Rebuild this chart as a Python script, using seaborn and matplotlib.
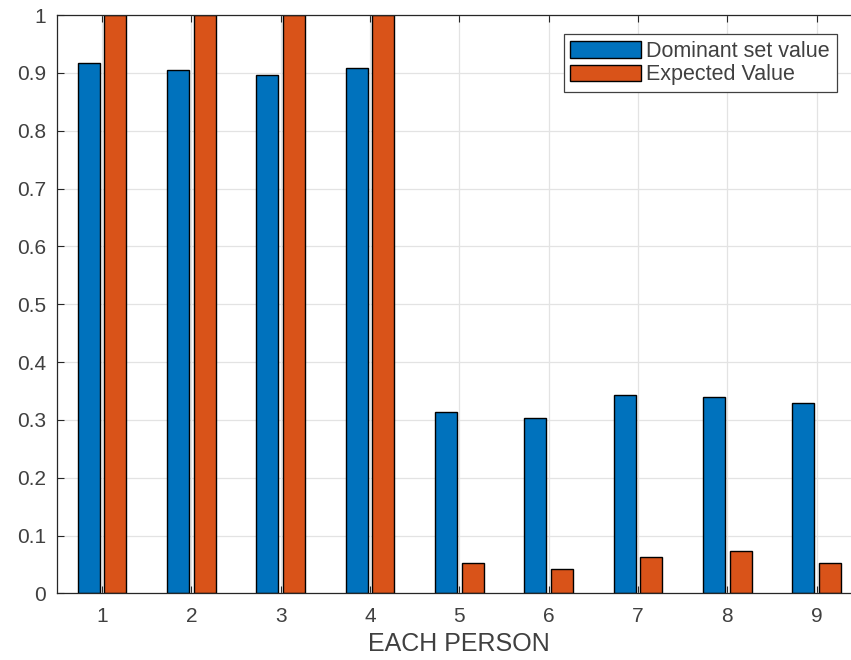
import pandas as pd
import matplotlib
matplotlib.use("Agg")
import matplotlib.pyplot as plt
import seaborn as sns

# --- data ---
persons = ["1", "2", "3", "4", "5", "6", "7", "8", "9"]
dominant_set = [0.917, 0.905, 0.897, 0.908, 0.313, 0.304, 0.343, 0.340, 0.329]
expected = [1.0, 1.0, 1.0, 1.0, 0.053, 0.042, 0.062, 0.073, 0.053]
series_names = ["Dominant set value", "Expected Value"]
y_ticks = [0, 0.1, 0.2, 0.3, 0.4, 0.5, 0.6, 0.7, 0.8, 0.9, 1]

df = pd.DataFrame({"person": persons, series_names[0]: dominant_set, series_names[1]: expected})
df = df.melt(id_vars="person", var_name="series", value_name="value")

sns.set_style("ticks")
plt.rcParams["font.family"] = ["Liberation Sans", "DejaVu Sans"]
text_color = "#404040"
axis_color = "#262626"
palette = {series_names[0]: "#0072BD", series_names[1]: "#D95319"}

fig = plt.figure(figsize=(8.51, 6.60), dpi=100)
ax = fig.add_axes([0.0673, 0.101, 0.945, 0.876])

sns.barplot(data=df, x="person", y="value", hue="series", order=persons,
            hue_order=series_names, palette=palette, saturation=1,
            width=0.6, gap=0.18, edgecolor="black", linewidth=1,
            errorbar=None, legend=False, ax=ax)

ax.set_xlim(-0.5, len(persons) - 0.5)
ax.set_ylim(0, 1)
ax.set_yticks(y_ticks)
ax.set_yticklabels([f"{v:g}" for v in y_ticks])
ax.set_xlabel("EACH PERSON", fontsize=18, color=text_color, labelpad=4)
ax.set_ylabel("")

ax.set_axisbelow(True)
ax.grid(True, color="#e3e3e3", linewidth=0.9)
ax.tick_params(axis="both", direction="in", length=5, width=0.8, colors=axis_color,
               labelcolor=text_color, labelsize=15, top=True)
ax.tick_params(axis="x", pad=10)
ax.tick_params(axis="y", pad=8)
for side in ["left", "bottom", "top", "right"]:
    ax.spines[side].set_visible(True)
    ax.spines[side].set_color(axis_color)
    ax.spines[side].set_linewidth(0.9)

handles = [plt.Rectangle((0, 0), 1, 1, facecolor=palette[s], edgecolor="black", linewidth=1)
           for s in series_names]
leg = fig.legend(handles, series_names, loc="upper right", bbox_to_anchor=(0.983, 0.948),
                 fontsize=15.5, handlelength=3.3, handleheight=0.8, handletextpad=0.25,
                 labelspacing=0.12, borderpad=0.3, borderaxespad=0, fancybox=False,
                 framealpha=1, edgecolor="#404040", labelcolor=text_color)
leg.get_frame().set_linewidth(0.9)

fig.savefig("out.png", dpi=100)
